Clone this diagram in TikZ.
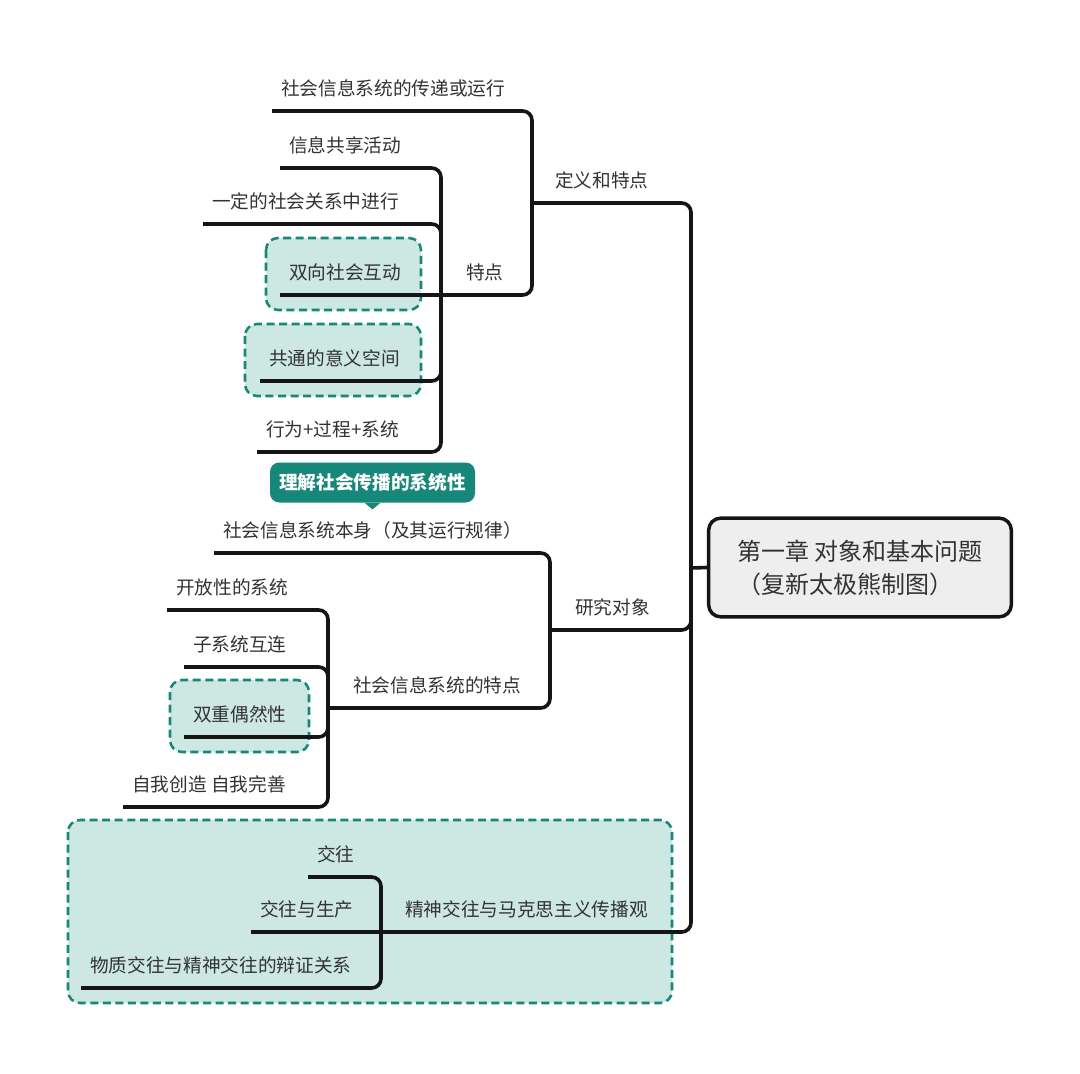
\documentclass[tikz,border=0pt]{standalone}
\usepackage{fontspec}
\setmainfont{Noto Sans CJK SC}
\definecolor{txtgray}{HTML}{333333}
\definecolor{linegray}{HTML}{151515}
\definecolor{rootgray}{HTML}{EEEEEE}
\definecolor{mmteal}{HTML}{17877A}
\definecolor{mmlight}{HTML}{CDE7E2}
\begin{document}
\begin{tikzpicture}[x=0.75pt,y=-0.75pt,
	topic/.style={anchor=south west,inner xsep=6.75pt,inner ysep=9.2pt,text depth=2pt,text=txtgray,font=\fontsize{14}{17}\selectfont},
	link/.style={line width=2.7pt,draw=linegray,rounded corners=7pt},
	hl/.style={draw=mmteal,fill=mmlight,line width=1.9pt,dash pattern=on 6pt off 3.4pt,rounded corners=9pt},
	rootbox/.style={draw=linegray,fill=rootgray,line width=2.6pt,rounded corners=9pt,minimum width=227pt,minimum height=74pt,align=left,text=txtgray,font=\fontsize{18}{24.75}\selectfont},
	callout/.style={fill=mmteal,text=white,font=\bfseries\fontsize{14}{17}\selectfont,rounded corners=7pt,minimum width=153.75pt,minimum height=30pt,inner sep=0pt}]
	\useasboundingbox[fill=white] (0,0) rectangle (1080,1073);
	\draw[hl] (266,238) rectangle (421,310);
	\draw[hl] (245,324) rectangle (421,396);
	\draw[hl] (170,680) rectangle (309,752);
	\draw[hl] (68,820) rectangle (672,1003);
	
	\node[rootbox] (root) at (860,567.5) {\rule{0pt}{15pt}第一章 对象和基本问题\\（复新太极熊制图）};
	\coordinate (kroot) at (691,568);
	
	% 定义和特点
	\coordinate (kdef) at (532,203);
	\node[topic] (def) at (546,203) {定义和特点};
	\node[topic] (yx) at (272,111) {社会信息系统的传递或运行};
	\coordinate (ktd) at (441,295);
	\node[topic] (td) at (457,295) {特点};
	\node[topic] (gx) at (280,168) {信息共享活动};
	\node[topic] (gx2) at (203,224) {一定的社会关系中进行};
	\node[topic] (hd) at (280,295) {双向社会互动};
	\node[topic] (yy) at (260,381) {共通的意义空间};
	\node[topic] (xw) at (257,452) {行为+过程+系统};
	
	% 研究对象
	\coordinate (kyj) at (550,630);
	\node[topic] (yj) at (566,630) {研究对象};
	\node[topic] (bs) at (214,553) {社会信息系统本身（及其运行规律）};
	\coordinate (ktz) at (328,708);
	\node[topic] (tz) at (344,708) {社会信息系统的特点};
	\node[topic] (kf) at (167,610) {开放性的系统};
	\node[topic] (zx) at (184,667) {子系统互连};
	\node[topic] (ou) at (184,737) {双重偶然性};
	\node[topic] (zw) at (123,807) {自我创造 自我完善};
	
	% 精神交往
	\coordinate (kjs) at (381,932);
	\node[topic] (js) at (396,932) {精神交往与马克思主义传播观};
	\node[topic] (jw) at (308,877) {交往};
	\node[topic] (sc) at (251,932) {交往与生产};
	\node[topic] (wz) at (81,988) {物质交往与精神交往的辩证关系};
	
	\node[callout] (tip) at (372.5,482.5) {理解社会传播的系统性};
	\fill[mmteal] ([xshift=-6pt]tip.south) -- ([xshift=6pt]tip.south) -- ([yshift=-5pt]tip.south) -- cycle;
	
	\draw[link] (kdef) -| (kroot);
	\draw[link] (kyj) -| (kroot);
	\draw[link] (kjs) -| (kroot);
	\draw[link] (kroot) -- (root.west);
	
	\draw[link] (yx.south west) -| (kdef);
	\draw[link] (ktd) -| (kdef);
	\foreach \n in {gx,gx2,yy,xw}
		\draw[link] (\n.south west) -| (ktd);
	\draw[link] (hd.south west) -- (ktd);
	
	\draw[link] (bs.south west) -| (kyj);
	\draw[link] (ktz) -| (kyj);
	\foreach \n in {kf,zx,ou,zw}
		\draw[link] (\n.south west) -| (ktz);
	
	\foreach \n in {jw,wz}
		\draw[link] (\n.south west) -| (kjs);
	\draw[link] (sc.south west) -- (kjs);
\end{tikzpicture}
\end{document}
